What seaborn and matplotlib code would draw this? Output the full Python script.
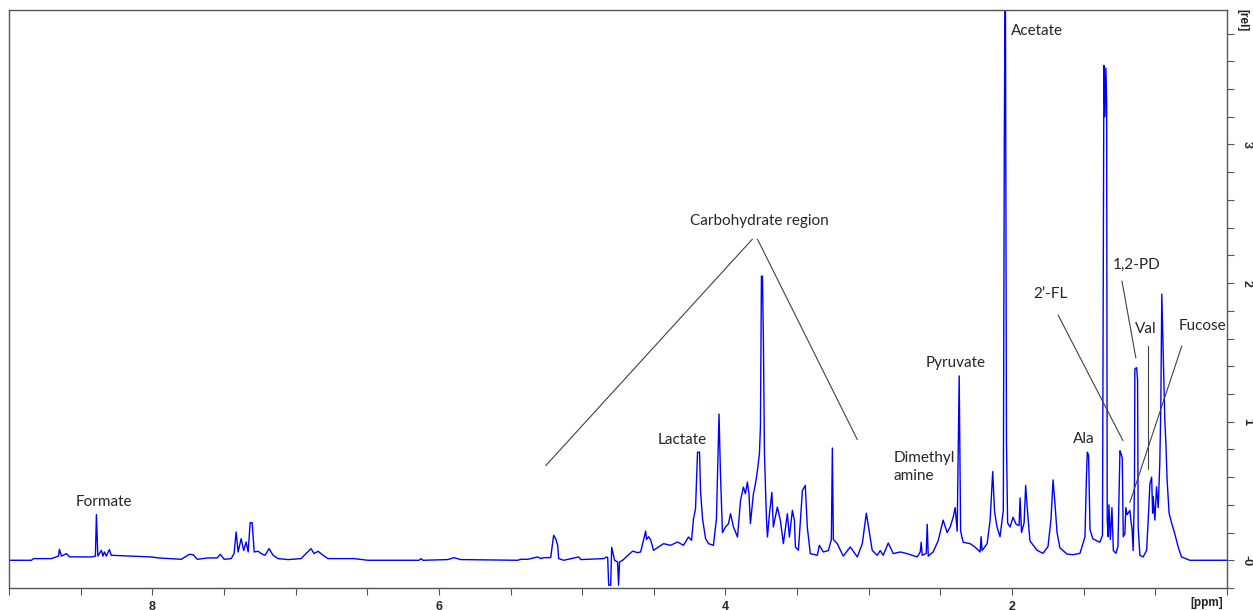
import matplotlib
matplotlib.use("Agg")
import numpy as np
import pandas as pd
import matplotlib.pyplot as plt
import seaborn as sns
from matplotlib.ticker import FixedLocator, MultipleLocator

# 1H NMR spectrum: (chemical shift [ppm], intensity [rel])
downfield = [
    (9.00, 0.0), (8.843, 0.0), (8.829, 0.012), (8.704, 0.012), (8.655, 0.03),
    (8.648, 0.079), (8.634, 0.03), (8.599, 0.048), (8.578, 0.025), (8.425, 0.024),
    (8.397, 0.03), (8.390, 0.33), (8.380, 0.03), (8.355, 0.072), (8.345, 0.03),
    (8.334, 0.060), (8.321, 0.03), (8.300, 0.077), (8.286, 0.036), (8.007, 0.024),
    (7.958, 0.017), (7.798, 0.007), (7.742, 0.043), (7.714, 0.040), (7.686, 0.007),
    (7.610, 0.017), (7.547, 0.017), (7.526, 0.043), (7.498, 0.007), (7.449, 0.012),
    (7.429, 0.05), (7.415, 0.204), (7.401, 0.06), (7.380, 0.156), (7.362, 0.07),
    (7.345, 0.132), (7.331, 0.06), (7.317, 0.271), (7.303, 0.271), (7.289, 0.06),
    (7.261, 0.065), (7.240, 0.048), (7.213, 0.036), (7.185, 0.084), (7.157, 0.036),
    (7.122, 0.012), (7.052, 0.005), (6.962, 0.012), (6.892, 0.084), (6.871, 0.048),
    (6.843, 0.065), (6.808, 0.036),
]
water = [
    (6.774, 0.012), (6.592, 0.012), (6.495, 0.0), (6.139, 0.0), (6.125, 0.012),
    (6.111, 0.0), (5.937, 0.005), (5.895, 0.019), (5.847, 0.005), (5.449, 0.0),
    (5.429, 0.007), (5.380, 0.007), (5.310, 0.024), (5.289, 0.012), (5.268, 0.019),
    (5.220, 0.019), (5.199, 0.18), (5.185, 0.156), (5.171, 0.108), (5.164, 0.012),
    (5.129, 0.0), (5.024, 0.024), (5.010, 0.005), (4.850, 0.012), (4.829, 0.024),
    (4.822, 0.02), (4.815, -0.18), (4.801, -0.18), (4.794, 0.093), (4.774, 0.0),
    (4.753, -0.012), (4.746, -0.18), (4.739, -0.012), (4.718, 0.0), (4.648, 0.066),
    (4.613, 0.055), (4.592, 0.060), (4.557, 0.211), (4.551, 0.15), (4.537, 0.17),
    (4.523, 0.15),
]
carbohydrate = [
    (4.502, 0.072), (4.432, 0.12), (4.383, 0.108), (4.334, 0.132), (4.293, 0.108),
    (4.258, 0.168), (4.237, 0.144), (4.223, 0.30), (4.209, 0.372), (4.195, 0.78),
    (4.181, 0.78), (4.174, 0.50), (4.160, 0.30), (4.139, 0.156), (4.118, 0.12),
    (4.084, 0.108), (4.063, 0.30), (4.056, 0.60), (4.045, 1.055), (4.035, 0.624),
    (4.021, 0.20), (4.000, 0.24), (3.979, 0.264), (3.965, 0.336), (3.944, 0.24),
    (3.916, 0.168), (3.895, 0.432), (3.875, 0.528), (3.861, 0.48), (3.847, 0.564),
    (3.836, 0.48), (3.826, 0.264), (3.805, 0.48), (3.791, 0.55), (3.777, 0.648),
    (3.763, 0.77), (3.756, 0.96), (3.749, 2.05), (3.742, 2.05), (3.735, 1.56),
    (3.728, 0.77), (3.714, 0.30), (3.707, 0.168), (3.693, 0.336), (3.676, 0.49),
    (3.666, 0.24), (3.638, 0.384), (3.617, 0.288), (3.596, 0.12), (3.568, 0.336),
    (3.554, 0.168), (3.533, 0.36), (3.519, 0.288), (3.512, 0.096), (3.491, 0.072),
    (3.463, 0.504), (3.443, 0.54), (3.429, 0.24), (3.408, 0.048), (3.359, 0.036),
    (3.345, 0.108), (3.317, 0.06), (3.282, 0.07), (3.261, 0.15), (3.254, 0.81),
    (3.247, 0.15), (3.220, 0.12), (3.178, 0.03), (3.129, 0.096), (3.080, 0.024),
    (3.045, 0.12), (3.017, 0.34), (2.976, 0.072),
]
aliphatic = [
    (2.941, 0.036), (2.920, 0.07), (2.899, 0.036), (2.864, 0.125), (2.829, 0.048),
    (2.780, 0.06), (2.732, 0.048), (2.662, 0.024), (2.641, 0.06), (2.634, 0.13),
    (2.627, 0.036), (2.599, 0.05), (2.592, 0.26), (2.585, 0.03), (2.551, 0.06),
    (2.516, 0.14), (2.481, 0.29), (2.453, 0.20), (2.432, 0.24), (2.411, 0.31),
    (2.397, 0.38), (2.383, 0.21), (2.369, 1.33), (2.359, 0.21), (2.341, 0.13),
    (2.293, 0.12), (2.258, 0.095), (2.223, 0.06), (2.216, 0.17), (2.209, 0.07),
    (2.174, 0.12), (2.153, 0.29), (2.135, 0.64), (2.122, 0.35), (2.105, 0.24),
    (2.084, 0.17), (2.061, 0.36), (2.054, 3.06), (2.047, 4.4), (2.039, 0.85),
    (2.031, 0.27), (2.014, 0.24), (1.993, 0.31), (1.972, 0.26), (1.951, 0.25),
    (1.944, 0.45), (1.934, 0.20), (1.916, 0.27), (1.905, 0.54), (1.895, 0.39),
    (1.875, 0.14), (1.826, 0.072), (1.784, 0.05), (1.749, 0.10), (1.728, 0.30),
    (1.714, 0.58), (1.700, 0.40), (1.686, 0.20), (1.666, 0.09), (1.617, 0.045),
    (1.575, 0.04), (1.526, 0.05), (1.491, 0.17), (1.481, 0.60), (1.475, 0.78),
    (1.466, 0.76), (1.456, 0.22), (1.436, 0.155), (1.387, 0.13), (1.369, 0.18),
    (1.364, 2.0), (1.359, 3.57), (1.352, 3.2), (1.345, 3.55), (1.340, 3.31),
    (1.336, 0.29), (1.329, 0.17), (1.324, 0.40), (1.314, 0.15), (1.303, 0.38),
    (1.293, 0.07), (1.275, 0.05), (1.261, 0.10), (1.247, 0.79), (1.240, 0.77),
    (1.231, 0.74), (1.224, 0.17), (1.213, 0.19), (1.206, 0.38), (1.197, 0.33),
    (1.190, 0.34), (1.178, 0.36), (1.171, 0.29), (1.162, 0.22), (1.155, 0.07),
    (1.146, 0.5), (1.143, 1.38), (1.131, 1.39), (1.124, 1.30), (1.120, 0.24),
    (1.108, 0.036), (1.085, 0.024), (1.061, 0.072), (1.050, 0.29), (1.038, 0.55),
    (1.026, 0.60), (1.019, 0.34), (1.015, 0.46), (1.003, 0.29), (0.992, 0.53),
    (0.980, 0.38), (0.969, 0.70), (0.962, 1.10), (0.955, 1.92), (0.946, 1.53),
    (0.934, 1.01), (0.927, 0.86), (0.918, 0.58), (0.904, 0.34), (0.887, 0.27),
    (0.864, 0.19), (0.841, 0.096), (0.817, 0.024), (0.760, 0.0), (0.50, 0.0),
]

# metabolite labels (ppm, rel) and leader lines
labels = ["Formate", "Lactate", "Carbohydrate region", "Pyruvate",
          "Acetate", "Ala", "2\u2019-FL", "1,2-PD", "Val", "Fucose"]
label_ppm = [8.341, 4.300, 3.763, 2.397, 1.826, 1.498, 1.735, 1.129, 1.066, 0.669]
label_rel = [0.424, 0.871, 2.446, 1.424, 3.82, 0.878, 1.921, 2.129, 1.669, 1.691]
leaders = [
    ((3.812, 2.317), (5.254, 0.683)),
    ((3.777, 2.317), (3.080, 0.871)),
    ((1.679, 1.770), (1.226, 0.863)),
    ((1.233, 2.014), (1.136, 1.460)),
    ((1.052, 1.547), (1.052, 0.662)),
    ((0.815, 1.547), (1.178, 0.417)),
]

SPEC_COLOR = "#0000ff"
AXIS_COLOR = "#555555"
TEXT_COLOR = "#262626"

sns.set_style("white")
plt.rcParams["font.family"] = ["Lato", "DejaVu Sans"]

df = pd.DataFrame(downfield + water + carbohydrate + aliphatic, columns=["ppm", "rel"])

fig = plt.figure(figsize=(12.53, 6.10), dpi=100)
ax = fig.add_axes([9 / 1253, 22 / 610, 1218 / 1253, 578 / 610])

sns.lineplot(data=df, x="ppm", y="rel", sort=False, estimator=None,
             color=SPEC_COLOR, lw=1.0, ax=ax)

ax.set_xlim(9.0, 0.5)
ax.set_ylim(-0.2, 3.97)
ax.set_xlabel("")
ax.set_ylabel("")

# axis frame / ticks in TopSpin style
for sp in ax.spines.values():
    sp.set_visible(True)
    sp.set_color(AXIS_COLOR)
    sp.set_linewidth(1.0)

ax.xaxis.set_major_locator(FixedLocator([2, 4, 6, 8]))
ax.xaxis.set_minor_locator(MultipleLocator(0.5))
ax.yaxis.tick_right()
ax.yaxis.set_major_locator(FixedLocator([0, 1, 2, 3]))
ax.yaxis.set_minor_locator(MultipleLocator(0.2))
ax.set_yticklabels(["-0", "1", "2", "3"])
ax.tick_params(which="both", direction="out", length=5, width=0.8,
               color=AXIS_COLOR, labelsize=9)
ax.tick_params(axis="x", which="both", bottom=True, pad=4)
ax.tick_params(axis="y", which="both", right=True, left=False, pad=5)
for t in ax.get_xticklabels():
    t.set_fontweight("bold")
    t.set_family("Liberation Sans")
for t in ax.get_yticklabels():
    t.set_fontweight("bold")
    t.set_family("Liberation Sans")
    t.set_rotation(-90)
    t.set_va("center")

ax.text(0.9836, -0.026, "[ppm]", transform=ax.transAxes, ha="center", va="center",
        fontsize=8.5, fontweight="bold", family="Liberation Sans", color="#222222")
ax.text(1.013, 0.983, "[rel]", transform=ax.transAxes, ha="center", va="center",
        rotation=-90, fontsize=8.5, fontweight="bold", family="Liberation Sans",
        color="#222222")

# annotations
for lbl, x, y in zip(labels, label_ppm, label_rel):
    ax.text(x, y, lbl, ha="center", va="center", fontsize=11, color=TEXT_COLOR)
ax.text(2.829, 0.676, "Dimethyl\namine", ha="left", va="center", fontsize=11,
        color=TEXT_COLOR, linespacing=1.35)
for (x0, y0), (x1, y1) in leaders:
    ax.plot([x0, x1], [y0, y1], color="#404040", lw=0.8)

fig.savefig("out.png", dpi=100, facecolor="white")
